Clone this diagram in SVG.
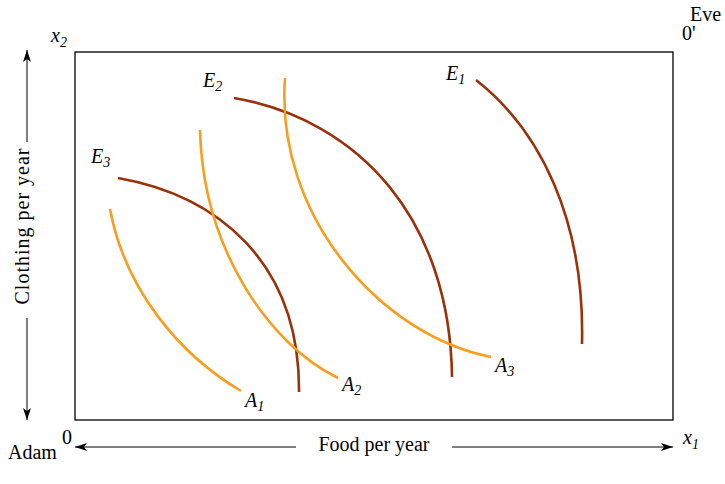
<svg xmlns="http://www.w3.org/2000/svg" width="725" height="484" viewBox="0 0 725 484">
<defs>
<style>
.t{font-family:"Liberation Serif","DejaVu Serif",serif;font-size:20px;fill:#000}
.i{font-style:italic}
.s{font-size:14px}
.e{fill:none;stroke:#9a3209;stroke-width:2.6}
.a{fill:none;stroke:#fb9d1c;stroke-width:2.6}
.ax{fill:none;stroke:#000;stroke-width:1}
</style>
<marker id="ah" viewBox="0 0 12 8" refX="12" refY="4" markerWidth="12" markerHeight="8" markerUnits="userSpaceOnUse" orient="auto">
<path d="M0,0 L12,4 L0,8 L3,4 Z" fill="#000"/>
</marker>
</defs>
<rect id="box" x="75" y="52" width="598" height="368" fill="none" stroke="#000" stroke-width="1.3"/>
<g id="axes">
<line class="ax" x1="27" y1="142" x2="27" y2="50" marker-end="url(#ah)"/>
<line class="ax" x1="27" y1="318" x2="27" y2="420" marker-end="url(#ah)"/>
<line class="ax" x1="296" y1="447" x2="75" y2="447" marker-end="url(#ah)"/>
<line class="ax" x1="452" y1="447" x2="673" y2="447" marker-end="url(#ah)"/>
<text class="t" x="0" y="0" text-anchor="middle" letter-spacing="1" transform="translate(29,226) rotate(-90)">Clothing per year</text>
<text class="t" x="374" y="451" text-anchor="middle">Food per year</text>
</g>
<g id="labels">
<text class="t i" x="51" y="42">x<tspan class="s" dy="5">2</tspan></text>
<text class="t" x="690" y="21">Eve</text>
<text class="t" x="682" y="40">0'</text>
<text class="t" x="62" y="444">0</text>
<text class="t" x="8" y="459">Adam</text>
<text class="t i" x="683" y="444">x<tspan class="s" dy="5">1</tspan></text>
</g>
<g id="connectors">
<path id="E1c" class="e" d="M476,80 C540,130 585,220 582,344"/>
<path id="E2c" class="e" d="M234,98 C360,120 450,220 452,377"/>
<path id="E3c" class="e" d="M118,178 C215,195 300,260 299,392"/>
<path id="A1c" class="a" d="M110,209 C125,290 180,355 241,391"/>
<path id="A2c" class="a" d="M200,130 C203,250 270,345 338,378"/>
<path id="A3c" class="a" d="M285,78 C275,215 380,335 491,357"/>
</g>
<g id="E1"><text class="t i" x="446" y="80">E<tspan class="s" dy="4">1</tspan></text></g>
<g id="E2"><text class="t i" x="203" y="87">E<tspan class="s" dy="4">2</tspan></text></g>
<g id="E3"><text class="t i" x="91" y="163">E<tspan class="s" dy="4">3</tspan></text></g>
<g id="A1"><text class="t i" x="245" y="407">A<tspan class="s" dy="4">1</tspan></text></g>
<g id="A2"><text class="t i" x="342" y="391">A<tspan class="s" dy="4">2</tspan></text></g>
<g id="A3"><text class="t i" x="495" y="372">A<tspan class="s" dy="4">3</tspan></text></g>
</svg>
